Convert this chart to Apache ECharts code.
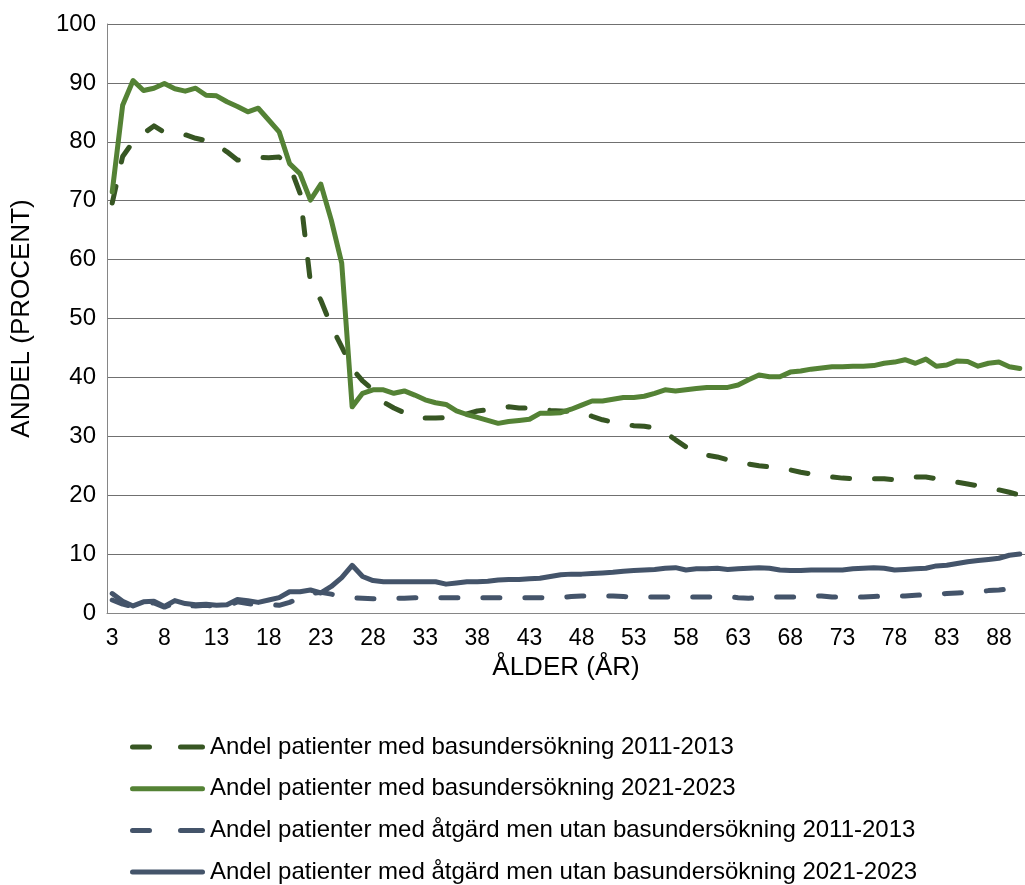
<!DOCTYPE html>
<html>
<head>
<meta charset="utf-8">
<script src="https://cdn.jsdelivr.net/npm/echarts@6/dist/echarts.min.js"></script>
<style>
html,body{margin:0;padding:0;background:#fff;}
#c{width:1025px;height:885px;}
</style>
</head>
<body>
<div id="c"></div>
<script>
// Ages 3..90
const ages = [];
for (let a = 3; a <= 90; a++) ages.push(String(a));

const seriesNames = [
  'Andel patienter med basundersökning 2011-2013',
  'Andel patienter med basundersökning 2021-2023',
  'Andel patienter med åtgärd men utan basundersökning 2011-2013',
  'Andel patienter med åtgärd men utan basundersökning 2021-2023'
];

const bas2011 = [69.6,77.5,80.0,81.4,82.7,81.6,81.3,81.2,80.6,80.2,79.5,78.3,76.9,77.0,77.4,77.3,77.4,76.0,71.3,56.2,
  53.1,48.7,45.2,41.5,39.4,37.9,35.8,34.8,34.0,33.3,33.1,33.1,33.2,33.3,33.8,34.3,34.5,34.8,35.0,34.8,
  34.8,34.6,34.4,34.3,34.2,34.0,33.4,32.8,32.4,32.1,31.8,31.7,31.4,30.7,29.4,28.2,27.3,26.8,26.5,26.0,
  25.5,25.3,25.0,24.8,24.5,24.3,23.9,23.6,23.3,23.1,22.9,22.8,22.9,22.8,22.8,22.6,22.9,23.1,23.1,22.8,
  22.4,22.2,21.9,21.6,21.2,20.9,20.5,20.0];

const bas2021 = [71.5,86.2,90.4,88.7,89.1,89.9,89.0,88.6,89.1,87.9,87.8,86.8,86.0,85.1,85.7,83.7,81.7,76.3,74.6,70.1,
  72.8,66.7,59.4,35.0,37.3,37.9,37.9,37.3,37.7,37.0,36.2,35.7,35.4,34.3,33.7,33.2,32.7,32.2,32.5,32.7,
  32.9,33.9,33.9,34.0,34.6,35.3,36.0,36.0,36.3,36.6,36.6,36.8,37.3,37.9,37.7,37.9,38.1,38.3,38.3,38.3,
  38.7,39.6,40.4,40.1,40.1,40.9,41.1,41.4,41.6,41.8,41.8,41.9,41.9,42.0,42.4,42.6,43.0,42.4,43.1,41.9,
  42.1,42.8,42.7,41.9,42.4,42.6,41.8,41.5];

const atg2011 = [2.2,1.5,1.1,1.6,1.7,1.0,1.7,1.3,1.2,1.3,1.1,1.2,1.9,1.6,1.4,1.5,1.3,1.8,2.6,3.3,
  3.5,3.2,2.8,2.6,2.5,2.4,2.4,2.5,2.5,2.6,2.6,2.6,2.6,2.6,2.6,2.6,2.6,2.6,2.6,2.6,
  2.6,2.6,2.5,2.6,2.8,2.9,2.9,2.9,2.9,2.8,2.7,2.7,2.7,2.7,2.7,2.7,2.7,2.7,2.7,2.8,
  2.6,2.5,2.6,2.7,2.7,2.7,2.7,2.8,2.9,2.7,2.7,2.7,2.7,2.8,2.9,2.9,2.9,3.0,3.1,3.2,
  3.3,3.4,3.5,3.6,3.8,3.9,4.1,4.3];

const atg2021 = [3.3,2.0,1.2,1.9,2.0,1.1,2.1,1.6,1.4,1.5,1.3,1.4,2.3,2.1,1.8,2.2,2.6,3.6,3.6,3.9,
  3.4,4.5,6.0,8.1,6.2,5.5,5.3,5.3,5.3,5.3,5.3,5.3,4.9,5.1,5.3,5.3,5.4,5.6,5.7,5.7,
  5.8,5.9,6.2,6.5,6.6,6.6,6.7,6.8,6.9,7.1,7.2,7.3,7.4,7.6,7.7,7.3,7.5,7.5,7.6,7.4,
  7.5,7.6,7.7,7.6,7.3,7.2,7.2,7.3,7.3,7.3,7.3,7.5,7.6,7.7,7.6,7.3,7.4,7.5,7.6,8.0,
  8.1,8.4,8.7,8.9,9.1,9.3,9.8,10.0];

const yTicks = {min: 0, max: 100, interval: 10};

const FONT = "'Liberation Sans', Arial, sans-serif";
const ICON_DASHED = 'path://M2.5,0 H19.5 A2.5,2.5 0 0 1 19.5,5 H2.5 A2.5,2.5 0 0 1 2.5,0 Z M50.5,0 H72.5 A2.5,2.5 0 0 1 72.5,5 H50.5 A2.5,2.5 0 0 1 50.5,0 Z';
const ICON_SOLID = 'path://M2.5,0 H72.5 A2.5,2.5 0 0 1 72.5,5 H2.5 A2.5,2.5 0 0 1 2.5,0 Z';

const chart = echarts.init(document.getElementById('c'), null, {renderer: 'canvas'});

function mk(name, data, color, dashed) {
  return {
    name: name,
    type: 'line',
    data: data,
    symbol: 'none',
    showSymbol: false,
    smooth: false,
    lineStyle: {
      color: color,
      width: 5,
      type: dashed ? [17, 25] : 'solid',
      cap: 'round',
      join: 'round'
    },
    itemStyle: {color: color},
    emphasis: {disabled: true}
  };
}

chart.setOption({
  animation: false,
  backgroundColor: '#ffffff',
  grid: {left: 107, top: 24, width: 918.7, height: 589, containLabel: false},
  xAxis: {
    type: 'category',
    data: ages,
    boundaryGap: true,
    name: 'ÅLDER (ÅR)',
    nameLocation: 'middle',
    nameGap: 30,
    nameTextStyle: {fontFamily: FONT, fontSize: 26, color: '#000'},
    axisLine: {show: true, lineStyle: {color: '#868686', width: 1}},
    axisTick: {show: false},
    axisLabel: {interval: 4, fontFamily: FONT, fontSize: 23, color: '#000', margin: 14},
    splitLine: {show: false}
  },
  yAxis: {
    type: 'value',
    min: yTicks.min,
    max: yTicks.max,
    interval: yTicks.interval,
    name: 'ANDEL (PROCENT)',
    nameLocation: 'middle',
    nameGap: 72,
    nameRotate: 90,
    nameTextStyle: {fontFamily: FONT, fontSize: 26, color: '#000'},
    axisLine: {show: true, lineStyle: {color: '#868686', width: 1}},
    axisTick: {show: false},
    axisLabel: {fontFamily: FONT, fontSize: 24, color: '#000', margin: 11},
    splitLine: {show: true, lineStyle: {color: '#707070', width: 1}}
  },
  legend: {
    orient: 'vertical',
    left: 130,
    top: 735,
    height: 170,
    padding: 0,
    itemWidth: 75,
    itemHeight: 5,
    itemGap: 17.7,
    textStyle: {fontFamily: FONT, fontSize: 24, color: '#000'},
    data: [
      {name: seriesNames[0], icon: ICON_DASHED},
      {name: seriesNames[1], icon: ICON_SOLID},
      {name: seriesNames[2], icon: ICON_DASHED},
      {name: seriesNames[3], icon: ICON_SOLID}
    ]
  },
  series: [
    mk(seriesNames[0], bas2011, '#375623', true),
    mk(seriesNames[1], bas2021, '#548235', false),
    mk(seriesNames[2], atg2011, '#44546A', true),
    mk(seriesNames[3], atg2021, '#44546A', false)
  ]
});
</script>
</body>
</html>
